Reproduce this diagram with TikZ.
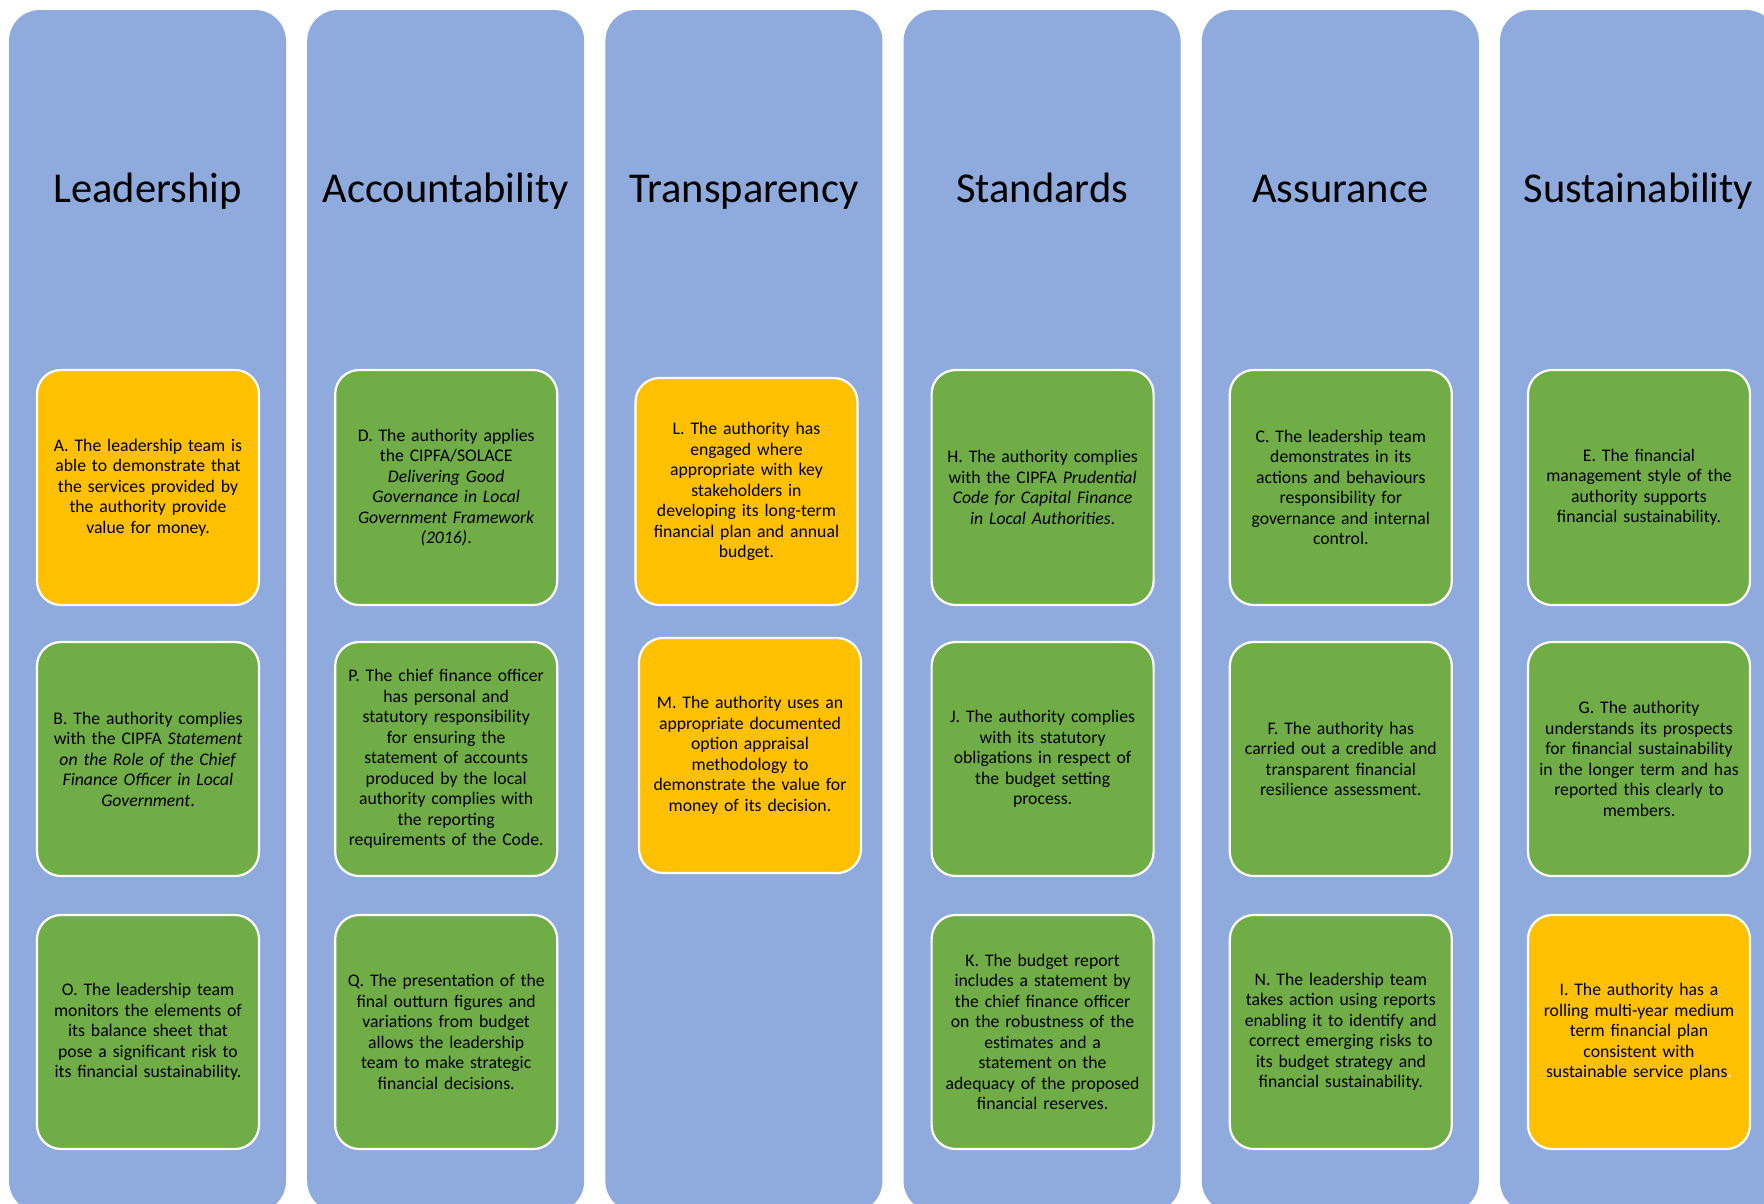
\documentclass[tikz,border=0pt]{standalone}
\usepackage{fontspec}
\setmainfont{Carlito}
\definecolor{colblue}{HTML}{8FAADC}
\definecolor{amber}{HTML}{FFC000}
\definecolor{leaf}{HTML}{70AD47}
\begin{document}
\begin{tikzpicture}[x=1pt,y=-1pt,
  column/.style={fill=colblue,rounded corners=31pt},
  heading/.style={font=\fontsize{42.5}{50}\selectfont,text=black,anchor=base,inner sep=0pt},
  card/.style={draw=white,line width=2.2pt,rounded corners=24pt,minimum width=222pt,text width=214pt,align=center,inner sep=0pt,font=\fontsize{17.7}{20.5}\selectfont},
  goodcard/.style={card,fill=leaf},
  warncard/.style={card,fill=amber}]
\useasboundingbox (0,0) rectangle (1764,1203);
% columns
\foreach \i in {0,...,5}{
  \fill[column] ({9+298.2*\i},10) rectangle ({9+298.2*\i+277},1212);
}
% headings
\node[heading] (h1) at (147.5,202) {Leadership};
\node[heading] (h2) at (445.7,202) {Accountability};
\node[heading] (h3) at (743.9,202) {Transparency};
\node[heading] (h4) at (1042.1,202) {Standards};
\node[heading] (h5) at (1340.3,202) {Assurance};
\node[heading] (h6) at (1638.5,202) {Sustainability};
% column 1
\node[warncard,minimum height=235pt] (A) at (148,487.5) {A. The leadership team is\\able to demonstrate that\\the services provided by\\the authority provide\\value for money.};
\node[goodcard,minimum height=234pt] (B) at (148,759) {B. The authority complies\\with the CIPFA \textit{Statement}\\\textit{on the Role of the Chief}\\\textit{Finance Officer in Local}\\\textit{Government}.};
\node[goodcard,minimum height=234pt] (O) at (148,1032) {O. The leadership team\\monitors the elements of\\its balance sheet that\\pose a significant risk to\\its financial sustainability.};
% column 2
\node[goodcard,minimum height=235pt] (D) at (446.2,487.5) {D. The authority applies\\the CIPFA/SOLACE\\\textit{Delivering Good}\\\textit{Governance in Local}\\\textit{Government Framework}\\\textit{(2016)}.};
\node[goodcard,minimum height=234pt] (P) at (446.2,759) {P. The chief finance officer\\has personal and\\statutory responsibility\\for ensuring the\\statement of accounts\\produced by the local\\authority complies with\\the reporting\\requirements of the Code.};
\node[goodcard,minimum height=234pt] (Q) at (446.2,1032) {Q. The presentation of the\\final outturn figures and\\variations from budget\\allows the leadership\\team to make strategic\\financial decisions.};
% column 3
\node[warncard,minimum height=227pt] (L) at (746.5,491.5) {L. The authority has\\engaged where\\appropriate with key\\stakeholders in\\developing its long-term\\financial plan and annual\\budget.};
\node[warncard,minimum height=235pt] (M) at (750,755.5) {M. The authority uses an\\appropriate documented\\option appraisal\\methodology to\\demonstrate the value for\\money of its decision.};
% column 4
\node[goodcard,minimum height=235pt] (H) at (1042.6,487.5) {H. The authority complies\\with the CIPFA \textit{Prudential}\\\textit{Code for Capital Finance}\\\textit{in Local Authorities}.};
\node[goodcard,minimum height=234pt] (J) at (1042.6,759) {J. The authority complies\\with its statutory\\obligations in respect of\\the budget setting\\process.};
\node[goodcard,minimum height=234pt] (K) at (1042.6,1032) {K. The budget report\\includes a statement by\\the chief finance officer\\on the robustness of the\\estimates and a\\statement on the\\adequacy of the proposed\\financial reserves.};
% column 5
\node[goodcard,minimum height=235pt] (C) at (1340.8,487.5) {C. The leadership team\\demonstrates in its\\actions and behaviours\\responsibility for\\governance and internal\\control.};
\node[goodcard,minimum height=234pt] (F) at (1340.8,759) {F. The authority has\\carried out a credible and\\transparent financial\\resilience assessment.};
\node[goodcard,minimum height=234pt] (N) at (1340.8,1032) {N. The leadership team\\takes action using reports\\enabling it to identify and\\correct emerging risks to\\its budget strategy and\\financial sustainability.};
% column 6
\node[goodcard,minimum height=235pt] (E) at (1639,487.5) {E. The financial\\management style of the\\authority supports\\financial sustainability.};
\node[goodcard,minimum height=234pt] (G) at (1639,759) {G. The authority\\understands its prospects\\for financial sustainability\\in the longer term and has\\reported this clearly to\\members.};
\node[warncard,minimum height=234pt] (I) at (1639,1032) {I. The authority has a\\rolling multi-year medium\\term financial plan\\consistent with\\sustainable service plans\textcolor{white}{.}};
\end{tikzpicture}
\end{document}
